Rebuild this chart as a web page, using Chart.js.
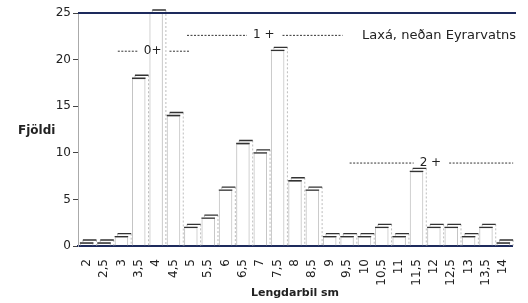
<!DOCTYPE html>
<html>
<head>
<meta charset="utf-8">
<script src="https://cdn.jsdelivr.net/npm/chart.js@4.4.1/dist/chart.umd.min.js"></script>
<style>
  html, body { margin: 0; padding: 0; background: #fff; }
  #wrap { width: 528px; height: 303px; }
</style>
</head>
<body>
<div id="wrap"><canvas id="lengthChart"></canvas></div>
<script>
const categories = ["2", "2,5", "3", "3,5", "4", "4,5", "5", "5,5", "6", "6,5", "7", "7,5", "8",
  "8,5", "9", "9,5", "10", "10,5", "11", "11,5", "12", "12,5", "13", "13,5", "14"];
const counts = [0, 0, 1, 18, 25, 14, 2, 3, 6, 11, 10, 21, 7, 6, 1, 1, 1, 2, 1, 8, 2, 2, 1, 2, 0];
const yTicks = [0, 5, 10, 15, 20, 25];

// age group labels: [text, category index, y value, dash length left/right in px]
const ageLabels = [
  ["0+", 3.8, 20.9, 20],
  ["1 +", 10.2, 22.6, 60],
  ["2 +", 19.8, 8.9, 64],
];
const place = "Laxá, neðan Eyrarvatns";

const FONT = "'DejaVu Sans', sans-serif";
const INK = "#222";
const NAVY = "#1d2a5c";

// 3d look: back cap + edge for each bar, plus the texts
const decor = {
  id: "decor",
  afterDatasetsDraw(chart) {
    const { ctx, chartArea, scales } = chart;
    const meta = chart.getDatasetMeta(0);
    const d = 3;
    ctx.save();
    meta.data.forEach((bar) => {
      const p = bar.getProps(["x", "y", "base", "width"], true);
      const l = p.x - p.width / 2, r = p.x + p.width / 2;
      ctx.strokeStyle = "#bdbdbd";
      ctx.lineWidth = 1;
      ctx.setLineDash([2, 2]);
      ctx.beginPath();
      ctx.moveTo(r + d, p.y - d);
      ctx.lineTo(r + d, p.base);
      ctx.moveTo(l + d, p.y - d);
      ctx.lineTo(l + d, p.y);
      ctx.stroke();
      ctx.setLineDash([]);
      ctx.strokeStyle = "#333";
      ctx.lineWidth = 1.3;
      ctx.beginPath();
      ctx.moveTo(l, p.y);
      ctx.lineTo(r, p.y);
      ctx.moveTo(l + d, p.y - d);
      ctx.lineTo(r + d, p.y - d);
      ctx.stroke();
    });

    // top frame line
    ctx.strokeStyle = NAVY;
    ctx.lineWidth = 2;
    ctx.beginPath();
    ctx.moveTo(chartArea.left, chartArea.top);
    ctx.lineTo(chartArea.right + 4, chartArea.top);
    ctx.stroke();

    ctx.fillStyle = INK;
    ctx.font = "12px " + FONT;
    ctx.textBaseline = "middle";
    ageLabels.forEach(([txt, ix, yv, dash]) => {
      const x = scales.x.getPixelForValue(ix);
      const y = scales.y.getPixelForValue(yv);
      const w = ctx.measureText(txt).width;
      ctx.textAlign = "center";
      ctx.fillText(txt, x, y);
      ctx.strokeStyle = "#333";
      ctx.lineWidth = 1;
      ctx.setLineDash([2, 1.5]);
      ctx.beginPath();
      ctx.moveTo(x - w / 2 - 6 - dash, y);
      ctx.lineTo(x - w / 2 - 6, y);
      ctx.moveTo(x + w / 2 + 8, y);
      ctx.lineTo(x + w / 2 + 8 + dash, y);
      ctx.stroke();
      ctx.setLineDash([]);
    });
    ctx.font = "13px " + FONT;
    ctx.textAlign = "right";
    ctx.fillText(place, chartArea.right + 4, scales.y.getPixelForValue(22.6));

    ctx.font = "bold 12px " + FONT;
    ctx.textAlign = "left";
    ctx.fillText("Fjöldi", 18, scales.y.getPixelForValue(12.4));
    ctx.restore();
  },
};

new Chart(document.getElementById("lengthChart"), {
  type: "bar",
  data: {
    labels: categories,
    datasets: [
      {
        data: counts,
        backgroundColor: "rgba(255,255,255,0)",
        borderColor: "#c4c4c4",
        borderWidth: 1,
        borderSkipped: "bottom",
        minBarLength: 3,
        barPercentage: 0.78,
        categoryPercentage: 1,
      },
    ],
  },
  options: {
    responsive: true,
    maintainAspectRatio: false,
    animation: false,
    layout: { padding: { top: 13, right: 16, left: 0, bottom: 3 } },
    plugins: {
      legend: { display: false },
      tooltip: { enabled: false },
    },
    scales: {
      x: {
        afterFit: (s) => { s.height = 54; },
        grid: { display: false },
        border: { color: NAVY, width: 2 },
        ticks: {
          color: INK,
          font: { family: FONT, size: 12 },
          maxRotation: 90,
          minRotation: 90,
          autoSkip: false,
          padding: 5,
        },
        title: {
          display: true,
          text: "Lengdarbil sm",
          color: INK,
          font: { family: FONT, size: 11, weight: "bold" },
          padding: { top: 6, bottom: 0 },
        },
      },
      y: {
        min: 0,
        max: 25,
        afterFit: (s) => { s.width = 78; },
        afterBuildTicks: (s) => { s.ticks = yTicks.map((v) => ({ value: v })); },
        grid: { drawOnChartArea: false, tickLength: 5, tickColor: "#444" },
        border: { color: "#aaa", dash: [2, 2] },
        ticks: {
          color: INK,
          font: { family: FONT, size: 12 },
          padding: 2,
        },
      },
    },
  },
  plugins: [decor],
});
</script>
</body>
</html>
